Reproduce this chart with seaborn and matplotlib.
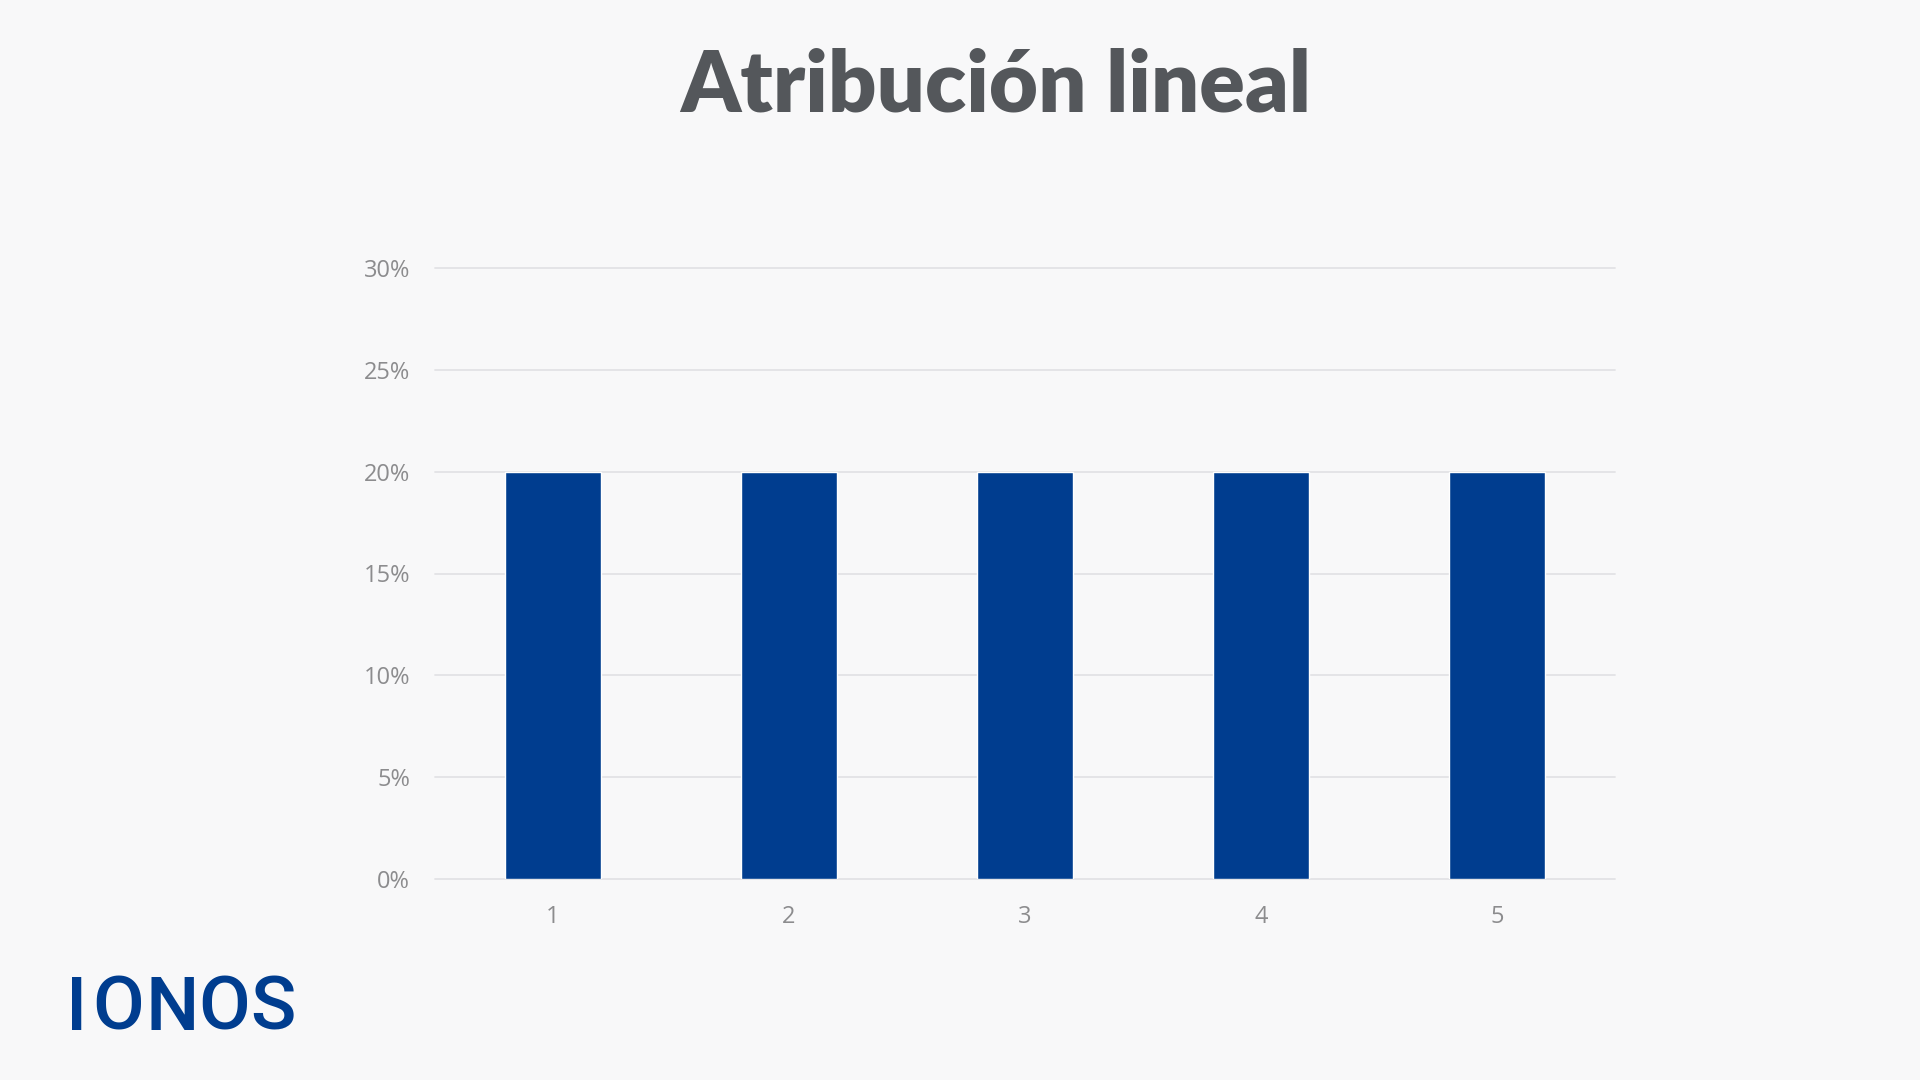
import matplotlib
matplotlib.use("Agg")
import matplotlib.pyplot as plt
import seaborn as sns
import numpy as np

# data
touchpoints = ["1", "2", "3", "4", "5"]
shares = [20, 20, 20, 20, 20]          # percent of conversion credit
y_ticks = [0, 5, 10, 15, 20, 25, 30]
y_tick_labels = ["0%", "5%", "10%", "15%", "20%", "25%", "30%"]

bg = "#f8f8f9"
blue = "#003d8f"
grey_text = "#8c8c8e"
grid_col = "#e2e2e6"

sns.set_theme(style="white")
plt.rcParams["font.family"] = ["Open Sans", "DejaVu Sans"]

fig = plt.figure(figsize=(19.2, 10.8), dpi=100, facecolor=bg)
ax = fig.add_axes([435 / 1920, 1 - 879 / 1080, 1180 / 1920, (879 - 268) / 1080])
ax.set_facecolor(bg)

sns.barplot(x=touchpoints, y=shares, color=blue, saturation=1, width=0.405, ax=ax, zorder=3)

ax.set_xlim(-0.5, len(touchpoints) - 0.5)
ax.set_ylim(0, 30)
ax.set_yticks(y_ticks)
ax.set_yticklabels(y_tick_labels)
ax.set_xlabel("")
ax.set_ylabel("")
ax.grid(axis="y", color=grid_col, linewidth=1.3, zorder=0)
ax.set_axisbelow(True)
for s in ax.spines.values():
    s.set_visible(False)
ax.tick_params(axis="both", length=0, labelsize=17, labelcolor=grey_text)
ax.tick_params(axis="y", pad=18)
ax.tick_params(axis="x", pad=19)
for line in ax.get_ygridlines():
    line.set_clip_on(False)

# title
fig.text(996 / 1920, 1 - 111 / 1080, "Atribución lineal", ha="center", va="baseline",
         fontsize=61, fontweight="heavy", color="#54575b",
         family=["Lato", "Open Sans", "DejaVu Sans"])

# IONOS logo as spaced letters
logo_x = [77, 118, 172, 224, 273]
for letter, xp in zip("IONOS", logo_x):
    fig.text(xp / 1920, 1 - 1030 / 1080, letter, ha="center", va="baseline",
             fontsize=54, fontweight="medium",
             color=blue, family=["Roboto", "DejaVu Sans"])

fig.savefig("out.png", dpi=100, facecolor=bg)
